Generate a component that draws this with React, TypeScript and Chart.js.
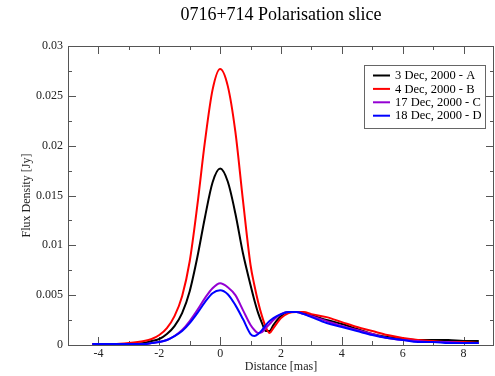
import React, { useEffect, useRef } from "react";
import { Chart, registerables } from "chart.js";

Chart.register(...registerables);

const titleText = "0716+714 Polarisation slice";
const xTitle = "Distance [mas]";
const yTitle = "Flux Density [Jy]";

const distance = [-4.2, -3.5, -3, -2.5, -2.25, -2, -1.75, -1.5, -1.25, -1, -0.75, -0.5, -0.25, 0, 0.25, 0.5, 0.75, 1, 1.125, 1.25, 1.375, 1.5, 1.625, 1.75, 2, 2.25, 2.5, 2.75, 3, 3.5, 4, 4.5, 5, 5.5, 6, 6.5, 7, 7.5, 8, 8.5];

const seriesA = [0.0001, 0.0001, 0.0001, 0.0002, 0.0004, 0.0006, 0.0011, 0.0019, 0.0032, 0.0054, 0.0088, 0.0128, 0.0163, 0.0177, 0.0164, 0.0132, 0.0092, 0.0060, 0.0045, 0.0032, 0.0022, 0.0014, 0.0014, 0.0020, 0.0029, 0.0033, 0.0033, 0.0032, 0.0030, 0.0025, 0.0021, 0.0016, 0.0011, 0.0008, 0.0006, 0.0005, 0.0005, 0.0005, 0.0004, 0.0004];
const seriesB = [0.0001, 0.0001, 0.0002, 0.0004, 0.0006, 0.0010, 0.0017, 0.0029, 0.0049, 0.0084, 0.0140, 0.0204, 0.0256, 0.0277, 0.0260, 0.0214, 0.0145, 0.0080, 0.0060, 0.0043, 0.0029, 0.0018, 0.0012, 0.0017, 0.0027, 0.0032, 0.0033, 0.0033, 0.0031, 0.0028, 0.0023, 0.0018, 0.0014, 0.0010, 0.0007, 0.0005, 0.0004, 0.0003, 0.0003, 0.0002];
const seriesC = [0.0001, 0.0001, 0.0001, 0.0001, 0.0002, 0.0003, 0.0005, 0.0009, 0.0015, 0.0024, 0.0035, 0.0047, 0.0057, 0.0062, 0.0058, 0.0050, 0.0035, 0.0020, 0.0015, 0.0012, 0.0013, 0.0017, 0.0021, 0.0025, 0.0031, 0.0033, 0.0033, 0.0031, 0.0029, 0.0024, 0.0019, 0.0015, 0.0011, 0.0007, 0.0005, 0.0004, 0.0003, 0.0003, 0.0002, 0.0002];
const seriesD = [0.0001, 0.0001, 0.0001, 0.0001, 0.0002, 0.0003, 0.0005, 0.0009, 0.0014, 0.0022, 0.0032, 0.0043, 0.0052, 0.0055, 0.0051, 0.0040, 0.0026, 0.0011, 0.0009, 0.0011, 0.0015, 0.0020, 0.0024, 0.0027, 0.0031, 0.0033, 0.0033, 0.0031, 0.0028, 0.0022, 0.0018, 0.0014, 0.0010, 0.0007, 0.0005, 0.0003, 0.0003, 0.0002, 0.0002, 0.0002];

const seriesLabels = ["3 Dec, 2000 - A", "4 Dec, 2000 - B", "17 Dec, 2000 - C", "18 Dec, 2000 - D"];
const seriesColors = ["#000000", "#ff0000", "#9400d3", "#0000ff"];

const xMajorTicks = [-4, -2, 0, 2, 4, 6, 8];
const xTickLabels = ["-4", "-2", "0", "2", "4", "6", "8"];
const xMinorTicks = [-3, -1, 1, 3, 5, 7];
const yMajorTicks = [0, 0.005, 0.01, 0.015, 0.02, 0.025, 0.03];
const yTickLabels = ["0", "0.005", "0.01", "0.015", "0.02", "0.025", "0.03"];
const yMinorTicks = [0.0025, 0.0075, 0.0125, 0.0175, 0.0225, 0.0275];

const serif = '"Liberation Serif", "Times New Roman", serif';

const framePlugin = {
  id: "gracesFrame",
  beforeDatasetsDraw(chart: any) {
    const { ctx, chartArea: a, scales } = chart;
    const xs = scales.x, ys = scales.y;
    ctx.save();
    ctx.strokeStyle = "#555555";
    ctx.lineWidth = 1;
    ctx.strokeRect(Math.round(a.left) + 0.5, Math.round(a.top) + 0.5, Math.round(a.right - a.left) - 1, Math.round(a.bottom - a.top));
    const tick = (v: number, len: number, isX: boolean) => {
      ctx.beginPath();
      if (isX) {
        const p = Math.round(xs.getPixelForValue(v)) + 0.5;
        ctx.moveTo(p, a.bottom); ctx.lineTo(p, a.bottom - len);
        ctx.moveTo(p, a.top); ctx.lineTo(p, a.top + len);
      } else {
        const p = Math.round(ys.getPixelForValue(v)) + 0.5;
        ctx.moveTo(a.left, p); ctx.lineTo(a.left + len, p);
        ctx.moveTo(a.right, p); ctx.lineTo(a.right - len, p);
      }
      ctx.stroke();
    };
    xMajorTicks.forEach((v) => tick(v, 8, true));
    xMinorTicks.forEach((v) => tick(v, 4, true));
    yMajorTicks.forEach((v) => tick(v, 8, false));
    yMinorTicks.forEach((v) => tick(v, 4, false));
    ctx.restore();
  },
  afterDraw(chart: any) {
    const { ctx, chartArea: a, scales } = chart;
    const xs = scales.x, ys = scales.y;
    ctx.save();
    ctx.fillStyle = "#222222";
    ctx.font = `12px ${serif}`;
    ctx.textAlign = "center";
    ctx.textBaseline = "middle";
    xMajorTicks.forEach((v, i) => ctx.fillText(xTickLabels[i], xs.getPixelForValue(v), a.bottom + 9));
    ctx.textAlign = "right";
    yMajorTicks.forEach((v, i) => ctx.fillText(yTickLabels[i], a.left - 5, ys.getPixelForValue(v)));
    ctx.textAlign = "center";
    ctx.fillText(xTitle, (a.left + a.right) / 2, a.bottom + 22);
    ctx.save();
    ctx.translate(27, (a.top + a.bottom) / 2);
    ctx.rotate(-Math.PI / 2);
    ctx.fillText(yTitle, 0, 0);
    ctx.restore();
    ctx.fillStyle = "#000000";
    ctx.font = `18px ${serif}`;
    ctx.textBaseline = "alphabetic";
    ctx.fillText(titleText, (a.left + a.right) / 2, 20);

    // legend
    const bx = 364, by = 65, bw = 121, bh = 63;
    ctx.fillStyle = "#ffffff";
    ctx.fillRect(bx, by, bw, bh);
    ctx.strokeStyle = "#666666";
    ctx.lineWidth = 1;
    ctx.strokeRect(bx + 0.5, by + 0.5, bw, bh);
    ctx.font = `12.5px ${serif}`;
    ctx.textAlign = "left";
    ctx.textBaseline = "middle";
    seriesLabels.forEach((lab, i) => {
      const y = by + 10.5 + i * 13.4;
      ctx.strokeStyle = seriesColors[i];
      ctx.lineWidth = 2;
      ctx.beginPath();
      ctx.moveTo(bx + 9, y);
      ctx.lineTo(bx + 26, y);
      ctx.stroke();
      ctx.fillStyle = "#000000";
      ctx.fillText(lab, bx + 31, y + 0.5);
    });
    ctx.restore();
  },
};

export default function App() {
  const ref = useRef<HTMLCanvasElement | null>(null);
  useEffect(() => {
    if (!ref.current) return;
    const all = [seriesA, seriesB, seriesC, seriesD];
    const chart = new Chart(ref.current, {
      type: "line",
      data: {
        datasets: all.map((s, i) => ({
          label: seriesLabels[i],
          data: distance.map((x, j) => ({ x, y: s[j] })),
          borderColor: seriesColors[i],
          backgroundColor: seriesColors[i],
          borderWidth: 2,
          pointRadius: 0,
          fill: false,
          cubicInterpolationMode: "monotone" as const,
          order: 3 - i,
        })),
      },
      options: {
        responsive: false,
        animation: false,
        layout: { padding: { left: 68, right: 1, top: 46, bottom: 31 } },
        plugins: { legend: { display: false }, title: { display: false }, tooltip: { enabled: false } },
        scales: {
          x: { type: "linear", min: -5, max: 9, display: false },
          y: { type: "linear", min: 0, max: 0.03, display: false },
        },
      },
      plugins: [framePlugin],
    });
    return () => chart.destroy();
  }, []);
  return (
    <div style={{ position: "absolute", left: 0, top: 0, width: 495, height: 376, background: "#ffffff" }}>
      <canvas ref={ref} width={495} height={376} style={{ display: "block" }} />
    </div>
  );
}
